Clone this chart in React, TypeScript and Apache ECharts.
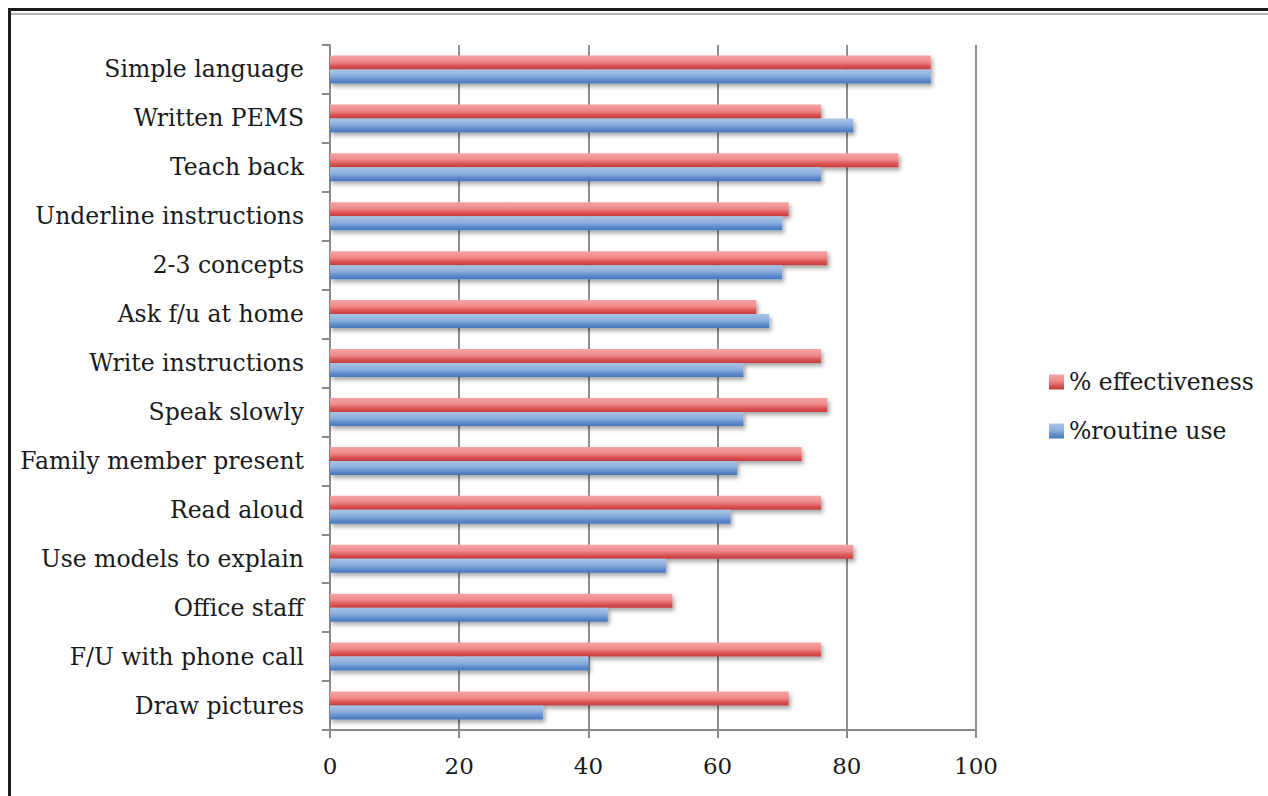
import React, { useEffect, useRef } from "react";
import * as echarts from "echarts";

const categories = [
  "Simple language",
  "Written PEMS",
  "Teach back",
  "Underline instructions",
  "2-3 concepts",
  "Ask f/u at home",
  "Write instructions",
  "Speak slowly",
  "Family member present",
  "Read aloud",
  "Use models to explain",
  "Office staff",
  "F/U with phone call",
  "Draw pictures",
];
const effectiveness = [93, 76, 88, 71, 77, 66, 76, 77, 73, 76, 81, 53, 76, 71];
const routineUse = [93, 81, 76, 70, 70, 68, 64, 64, 63, 62, 52, 43, 40, 33];
const xTicks = [0, 20, 40, 60, 80, 100];

const FONT = "DejaVu Serif";

export default function App() {
  const ref = useRef<HTMLDivElement>(null);
  useEffect(() => {
    document.body.style.margin = "0";
    const chart = echarts.init(ref.current!, null, { renderer: "svg" });
    const redGrad = new echarts.graphic.LinearGradient(0, 0, 0, 1, [
      { offset: 0, color: "#f5a3a3" },
      { offset: 0.45, color: "#ef8a8a" },
      { offset: 0.75, color: "#dc5454" },
      { offset: 1, color: "#c43c3c" },
    ]);
    const blueGrad = new echarts.graphic.LinearGradient(0, 0, 0, 1, [
      { offset: 0, color: "#a9c4e6" },
      { offset: 0.45, color: "#8daedd" },
      { offset: 0.75, color: "#5f8ccc" },
      { offset: 1, color: "#4677bd" },
    ]);
    chart.setOption({
      animation: false,
      backgroundColor: "#ffffff",
      textStyle: { fontFamily: FONT },
      grid: { left: 330, right: 292, top: 45, bottom: 66, containLabel: false },
      legend: {
        orient: "vertical",
        left: 1044,
        top: 365,
        itemWidth: 15,
        itemHeight: 15,
        itemGap: 25,
        icon: "rect",
        textStyle: { fontFamily: FONT, fontSize: 23.5, color: "#1a1a1a" },
        data: ["% effectiveness", "%routine use"],
      },
      xAxis: {
        type: "value",
        min: xTicks[0],
        max: xTicks[xTicks.length - 1],
        interval: 20,
        axisLine: { show: true, lineStyle: { color: "#8a8a8a", width: 2 } },
        axisTick: { show: true, length: 8, lineStyle: { color: "#8a8a8a", width: 2 } },
        splitLine: { show: true, lineStyle: { color: "#8f8f8f", width: 2 } },
        axisLabel: { fontFamily: FONT, fontSize: 23, color: "#1a1a1a", margin: 24 },
      },
      yAxis: {
        type: "category",
        inverse: true,
        data: categories,
        axisLine: { show: true, lineStyle: { color: "#8a8a8a", width: 2 } },
        axisTick: { show: true, length: 8, lineStyle: { color: "#8a8a8a", width: 2 } },
        axisLabel: { fontFamily: FONT, fontSize: 23.5, color: "#1a1a1a", margin: 26 },
      },
      graphic: [
        { type: "rect", shape: { x: 8, y: 8, width: 1260, height: 3 }, style: { fill: "#1c1c1c" } },
        { type: "rect", shape: { x: 8, y: 13, width: 1260, height: 2 }, style: { fill: "#b5b5b5" } },
        { type: "rect", shape: { x: 8, y: 8, width: 3, height: 788 }, style: { fill: "#1c1c1c" } },
      ],
      series: [
        {
          name: "% effectiveness",
          type: "bar",
          data: effectiveness,
          barWidth: 14,
          barGap: "0%",
          itemStyle: {
            color: redGrad,
            shadowColor: "rgba(0,0,0,0.35)",
            shadowBlur: 4,
            shadowOffsetX: 2,
            shadowOffsetY: 3,
          },
        },
        {
          name: "%routine use",
          type: "bar",
          data: routineUse,
          barWidth: 14,
          barGap: "0%",
          itemStyle: {
            color: blueGrad,
            shadowColor: "rgba(0,0,0,0.35)",
            shadowBlur: 4,
            shadowOffsetX: 2,
            shadowOffsetY: 3,
          },
        },
      ],
    });
    return () => chart.dispose();
  }, []);
  return <div ref={ref} style={{ width: 1268, height: 796 }} />;
}
